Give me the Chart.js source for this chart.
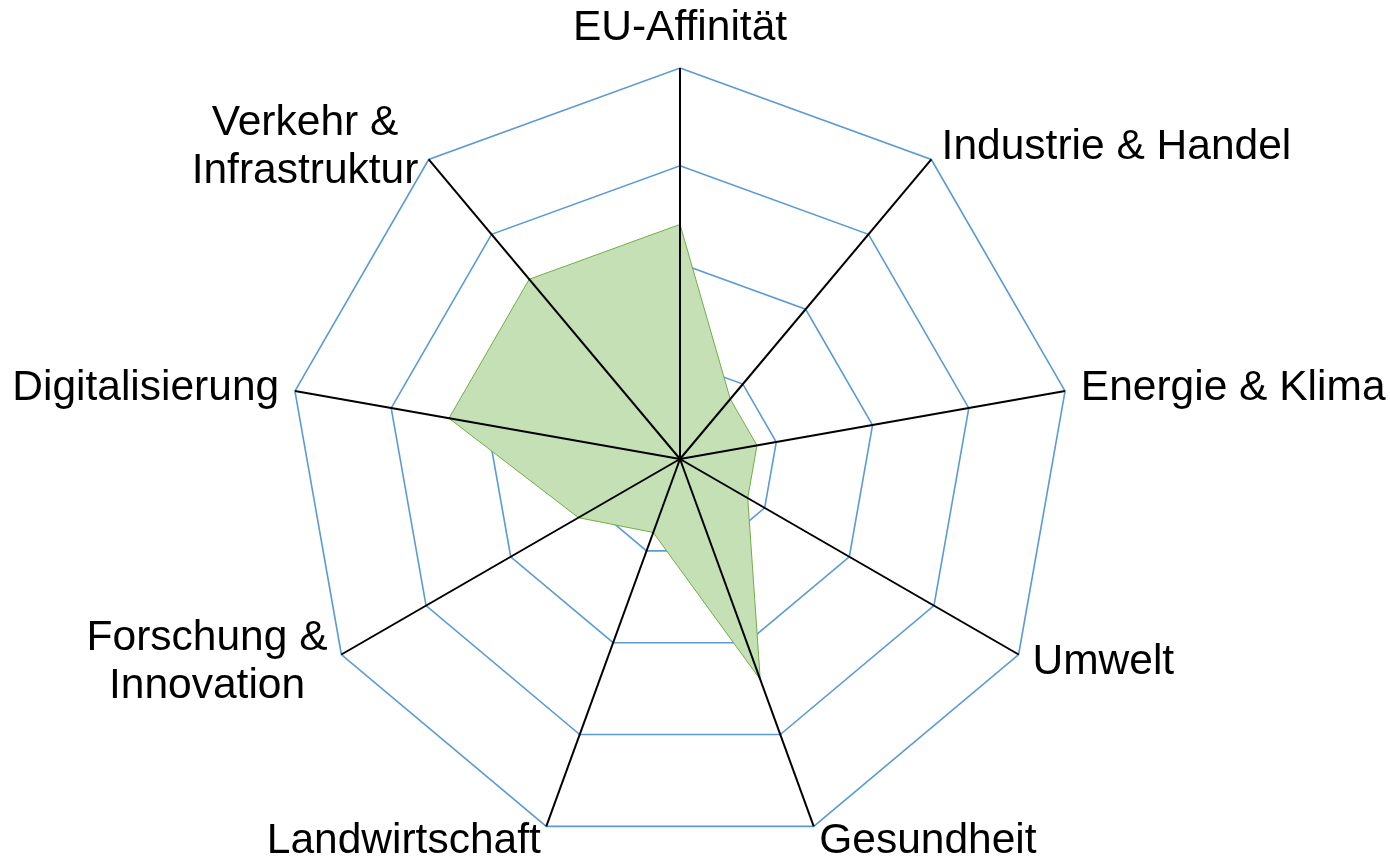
<!DOCTYPE html>
<html>
<head>
<meta charset="utf-8">
<script src="https://cdn.jsdelivr.net/npm/chart.js@4.4.1/dist/chart.umd.min.js"></script>
<style>
  html, body { margin: 0; padding: 0; background: #fff; }
  #wrap { width: 1390px; height: 858px; position: relative; }
</style>
</head>
<body>
<div id="wrap"><canvas id="myChart"></canvas></div>
<script>
var labels = [
    'EU-Affinität',
    'Industrie & Handel',
    'Energie & Klima',
    'Umwelt',
    'Gesundheit',
    'Landwirtschaft',
    ['Forschung &', 'Innovation'],
    'Digitalisierung',
    ['Verkehr &', 'Infrastruktur']
]
var scores = [60, 20, 20, 20, 60, 20, 30, 60, 60]
var scaleMax = 100
var scaleStep = 25

// axis titles drawn like the office chart: box sits just outside the outer ring
var axisLabels = {
    id: 'axisLabels',
    afterDraw: function(chart){
        var r = chart.scales.r
        var ctx = chart.ctx
        var lineH = 48
        ctx.save()
        ctx.font = '42.5px "Liberation Sans", Arial, sans-serif'
        ctx.fillStyle = '#000000'
        ctx.textAlign = 'center'
        ctx.textBaseline = 'middle'
        chart.data.labels.forEach(function(label, i){
            var lines = [].concat(label)
            var dist = r.drawingArea + 16
            var p = r.getPointPosition(i, dist)
            var s = (p.x - r.xCenter) / dist
            var c = -(p.y - r.yCenter) / dist
            var w = 0
            lines.forEach(function(t){ w = Math.max(w, ctx.measureText(t).width) })
            var h = lines.length * lineH
            var cx = p.x, cy = p.y
            if (Math.abs(s) < 0.05) {
                cy = p.y - c * h / 2
            } else if (s > 0) {
                cx = p.x + w / 2
            } else {
                cx = p.x - w / 2
            }
            lines.forEach(function(t, k){
                ctx.fillText(t, cx, cy - h / 2 + lineH * (k + 0.5))
            })
        })
        ctx.restore()
    }
}

var ctx = document.getElementById('myChart').getContext('2d')
var chart = new Chart(ctx, {
    type: 'radar',
    data: {
        labels: labels,
        datasets: [{
            data: scores,
            backgroundColor: '#C5E0B4',
            borderColor: '#70AD47',
            borderWidth: 1,
            pointRadius: 0,
            pointHoverRadius: 0,
            fill: true
        }]
    },
    options: {
        responsive: true,
        maintainAspectRatio: false,
        animation: false,
        layout: {
            padding: { left: 289, right: 319, top: 68, bottom: 8 }
        },
        plugins: {
            legend: { display: false },
            tooltip: { enabled: false }
        },
        scales: {
            r: {
                min: 0,
                max: scaleMax,
                ticks: { display: false, stepSize: scaleStep },
                grid: { color: '#5B9BD5', lineWidth: 1.6 },
                angleLines: { display: false },
                pointLabels: { display: false }
            },
            // second radial scale only for the spokes, drawn above the filled area
            spokes: {
                type: 'radialLinear',
                axis: 'r',
                min: 0,
                max: scaleMax,
                ticks: { display: false, stepSize: scaleStep },
                grid: { display: false, z: 1 },
                angleLines: { display: true, color: '#000000', lineWidth: 2 },
                pointLabels: { display: false }
            }
        }
    },
    plugins: [axisLabels]
})
</script>
</body>
</html>
